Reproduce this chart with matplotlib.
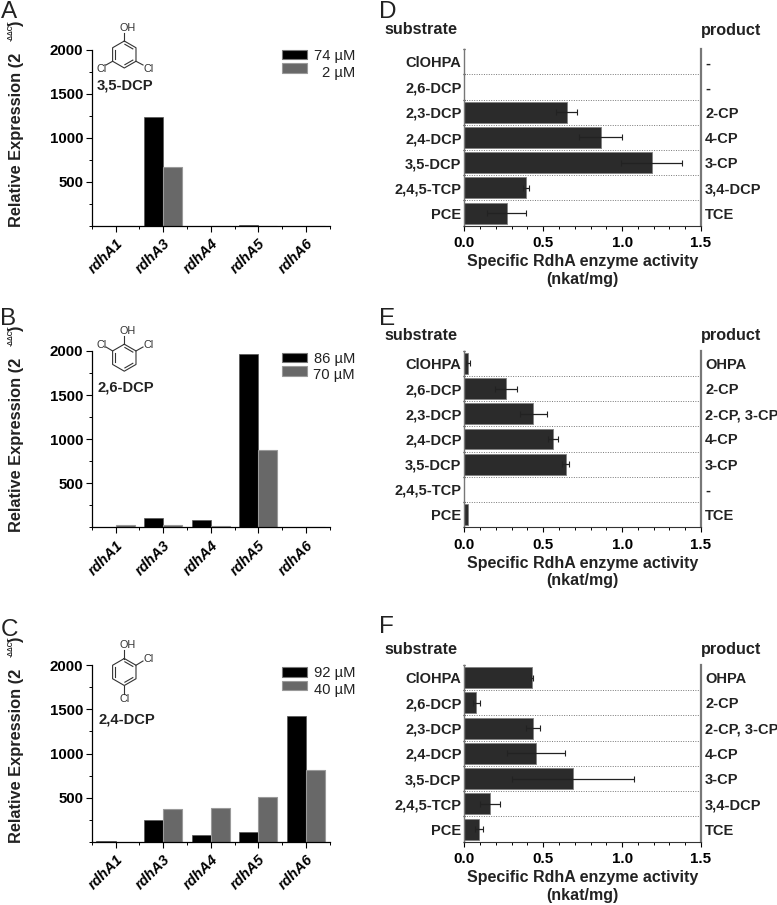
import numpy as np
import matplotlib
matplotlib.use("Agg")
import matplotlib.pyplot as plt
from matplotlib.patches import Rectangle
from matplotlib.ticker import MultipleLocator
from matplotlib.transforms import ScaledTranslation

plt.rcParams["font.family"] = ["Liberation Sans", "DejaVu Sans"]

W, H = 777, 905

# --- data --------------------------------------------------------------------
genes = ["rdhA1", "rdhA3", "rdhA4", "rdhA5", "rdhA6"]

a_high = [0, 1231, 0, 3, 0]
a_low = [0, 667, 0, 0, 0]
b_high = [8, 105, 80, 1970, 8]
b_low = [25, 25, 12, 880, 8]
c_high = [12, 247, 75, 112, 1420]
c_low = [2, 370, 378, 505, 812]

substrates = ["ClOHPA", "2,6-DCP", "2,3-DCP", "2,4-DCP", "3,5-DCP", "2,4,5-TCP", "PCE"]

d_vals = [0, 0, 0.649, 0.864, 1.187, 0.389, 0.268]
d_errs = [0, 0, 0.065, 0.134, 0.195, 0.019, 0.122]
d_prod = ["-", "-", "2-CP", "4-CP", "3-CP", "3,4-DCP", "TCE"]

e_vals = [0.023, 0.264, 0.437, 0.562, 0.642, 0, 0.023]
e_errs = [0.013, 0.071, 0.087, 0.032, 0.021, 0, 0]
e_prod = ["OHPA", "2-CP", "2-CP, 3-CP", "4-CP", "3-CP", "-", "TCE"]

f_vals = [0.429, 0.076, 0.435, 0.454, 0.689, 0.161, 0.093]
f_errs = [0.005, 0.023, 0.042, 0.183, 0.388, 0.064, 0.025]
f_prod = ["OHPA", "2-CP", "2-CP, 3-CP", "4-CP", "3-CP", "3,4-DCP", "TCE"]

fig = plt.figure(figsize=(W / 100, H / 100), dpi=100)


def px_axes(x0, x1, top, bottom):
    return fig.add_axes([x0 / W, 1 - bottom / H, (x1 - x0) / W, (bottom - top) / H])


def ftext(x, y, s, **kw):
    kw.setdefault("ha", "center")
    kw.setdefault("va", "center")
    fig.text(x / W, 1 - y / H, s, **kw)


def fline(xs, ys, lw=0.8, color="#333333"):
    fig.add_artist(plt.Line2D(np.array(xs) / W, 1 - np.array(ys) / H,
                              lw=lw, color=color, transform=fig.transFigure))


def frect(x0, y0, x1, y1, fc, ec):
    fig.add_artist(Rectangle((x0 / W, 1 - y1 / H), (x1 - x0) / W, (y1 - y0) / H,
                             fc=fc, ec=ec, lw=0.8, transform=fig.transFigure))


def ring(cx, cy, r, inner):
    ang = np.radians(90 + 60 * np.arange(7))
    xs, ys = cx + r * np.cos(ang), cy - r * np.sin(ang)
    fline(xs, ys)
    # inner double bonds
    for i in inner:
        mx, my = (xs[i] + xs[i + 1]) / 2, (ys[i] + ys[i + 1]) / 2
        px, py = cx + (mx - cx) * 0.78, cy + (my - cy) * 0.78
        dx, dy = (xs[i + 1] - xs[i]) * 0.34, (ys[i + 1] - ys[i]) * 0.34
        fline([px - dx, px + dx], [py - dy, py + dy])
    return xs, ys


def ylabel_parts(low):
    # superscript is much smaller than mathtext gives, so three rotated pieces
    rot = dict(rotation=90, va="bottom", fontweight="bold", color="#222222")
    ftext(17, low, "Relative Expression (2", fontsize=11.8, **rot)
    ftext(11.5, low - 186, "-ΔΔCT", fontsize=4.8, **rot)
    ftext(17, low - 200, ")", fontsize=11.8, **rot)


def expr_panel(top, bottom, high, low, label_low, legend_y, labels):
    ax = px_axes(91.7, 329.7, top, bottom)
    pos = np.arange(1, 6)
    ax.bar(pos - 0.2, high, 0.4, color="black", edgecolor="#555555", linewidth=0.5)
    ax.bar(pos + 0.2, low, 0.4, color="#686868", edgecolor="#9a9a9a", linewidth=0.8)
    ax.set_xlim(0.5, 5.5)
    ax.set_ylim(0, 2000)
    for s in ("top", "right"):
        ax.spines[s].set_visible(False)
    ax.spines["left"].set_linewidth(0.9)
    ax.spines["bottom"].set_linewidth(0.9)
    ax.set_xticks(pos)
    ax.set_xticklabels(genes, rotation=45, ha="right", va="top", rotation_mode="anchor",
                       fontsize=10.5, fontweight="bold", fontstyle="italic")
    shift = ScaledTranslation(-3 / 100, -2 / 100, fig.dpi_scale_trans)
    for lab in ax.get_xticklabels():
        lab.set_transform(lab.get_transform() + shift)
    ax.xaxis.set_minor_locator(MultipleLocator(1, offset=0.5))
    ax.set_yticks([500, 1000, 1500, 2000])
    ax.set_yticklabels(["500", "1000", "1500", "2000"], fontsize=10.8, fontweight="bold")
    ax.yaxis.set_minor_locator(MultipleLocator(250))
    ax.tick_params(axis="both", which="major", length=4, width=0.8, pad=2)
    ax.tick_params(axis="both", which="minor", length=2.2, width=0.7)
    ax.tick_params(axis="x", pad=4)
    ylabel_parts(label_low)
    frect(282, legend_y, 306.5, legend_y + 9.5, "black", "#777777")
    frect(282, legend_y + 13.5, 306.5, legend_y + 23, "#686868", "#9a9a9a")
    ftext(355, legend_y + 6, labels[0], ha="right", fontsize=10.6, color="#222222")
    ftext(355, legend_y + 22.5, labels[1], ha="right", fontsize=10.6, color="#222222")
    return ax


def activity_panel(top, bottom, vals, errs, prods, head_y):
    ax = px_axes(464.3, 701, top, bottom)
    y = np.arange(len(substrates))
    ax.barh(y, vals, 0.83, color="#2b2b2b", edgecolor="#808080", linewidth=0.6)
    for yi, v, e in zip(y, vals, errs):
        if e > 0:
            ax.errorbar(v, yi, xerr=e, color="#222222", lw=0.9, capsize=2, capthick=0.8)
    ax.set_xlim(0, 1.5)
    ax.set_ylim(6.5, -0.5)
    for b in y[:-1] + 0.5:
        ax.axhline(b, color="#777777", lw=0.7, ls=(0, (1, 1.5)), zorder=0)
    ax.spines["top"].set_visible(False)
    ax.spines["left"].set_color("#777777")
    ax.spines["left"].set_linewidth(1.0)
    ax.spines["right"].set_color("#777777")
    ax.spines["right"].set_linewidth(1.6)
    ax.spines["bottom"].set_color("#333333")
    ax.set_yticks(y)
    ax.set_yticklabels(substrates, fontsize=10.5, fontweight="bold", color="#222222")
    ax.set_yticks(np.arange(-0.5, 7), minor=True)
    ax.tick_params(axis="y", which="major", length=0, pad=2)
    ax.tick_params(axis="y", which="minor", length=2, width=0.9, color="#222222",
                   left=True, right=True, direction="inout")
    ax.set_xticks([0, 0.5, 1.0, 1.5])
    ax.set_xticklabels(["0.0", "0.5", "1.0", "1.5"], fontsize=10.9, fontweight="bold")
    ax.xaxis.set_minor_locator(MultipleLocator(0.1))
    ax.tick_params(axis="x", which="major", length=3.5, width=0.8, pad=4)
    ax.tick_params(axis="x", which="minor", length=2, width=0.7)
    ax.set_xlabel("Specific RdhA enzyme activity\n(nkat/mg)", fontsize=11.5,
                  fontweight="bold", labelpad=3, linespacing=1.2, color="#222222")
    right = ax.twinx()
    right.set_ylim(ax.get_ylim())
    right.set_yticks(y)
    right.set_yticklabels(prods, fontsize=10.5, fontweight="bold", color="#222222")
    right.tick_params(axis="y", length=0, pad=3)
    for s in right.spines.values():
        s.set_visible(False)
    ftext(384, head_y, "substrate", ha="left", fontsize=11.7, fontweight="bold", color="#222222")
    ftext(700.7, head_y, "product", ha="left", fontsize=11.7, fontweight="bold", color="#222222")
    return ax


# --- left column -------------------------------------------------------------
expr_panel(49.7, 225.7, a_high, a_low, 226.7, 50, ["74 µM", "2 µM"])
expr_panel(351, 527.3, b_high, b_low, 531.7, 352.5, ["86 µM", "70 µM"])
expr_panel(665.3, 841.7, c_high, c_low, 842.7, 667, ["92 µM", "40 µM"])

# --- right column ------------------------------------------------------------
activity_panel(49.3, 225.7, d_vals, d_errs, d_prod, 30)
activity_panel(350.7, 527.3, e_vals, e_errs, e_prod, 335)
activity_panel(665, 841.7, f_vals, f_errs, f_prod, 649)

# --- panel letters -----------------------------------------------------------
for x, y, s in [(9, 18.5, "A"), (8, 325, "B"), (9, 636, "C"),
                (388, 18.5, "D"), (387, 325, "E"), (386, 633, "F")]:
    ftext(x, y, s, fontsize=17.5, color="#222222", va="baseline")

# --- chemical structures -----------------------------------------------------
chem = dict(fontsize=7.8, color="#333333")

xs, ys = ring(124.3, 54.5, 13.5, [1, 3, 5])
fline([xs[0], xs[0]], [ys[0], 33])
fline([xs[2], 106], [ys[2], 65])
fline([xs[4], 143], [ys[4], 65])
ftext(128, 28, "OH", **chem)
ftext(102, 68.5, "Cl", **chem)
ftext(149, 68.5, "Cl", **chem)
ftext(125, 86, "3,5-DCP", fontsize=10.6, fontweight="bold", color="#222222")

xs, ys = ring(124.3, 357.7, 13.5, [1, 3, 5])
fline([xs[0], xs[0]], [ys[0], 336])
fline([xs[1], 106], [ys[1], 347])
fline([xs[5], 143], [ys[5], 347])
ftext(128, 331, "OH", **chem)
ftext(102, 345, "Cl", **chem)
ftext(149, 345, "Cl", **chem)
ftext(126, 387, "2,6-DCP", fontsize=10.6, fontweight="bold", color="#222222")

xs, ys = ring(124.3, 672, 13.5, [1, 3, 5])
fline([xs[0], xs[0]], [ys[0], 650])
fline([xs[5], 143], [ys[5], 661])
fline([xs[3], xs[3]], [ys[3], 694])
ftext(128, 645, "OH", **chem)
ftext(149, 659, "Cl", **chem)
ftext(125, 699, "Cl", **chem)
ftext(127, 719, "2,4-DCP", fontsize=10.6, fontweight="bold", color="#222222")

fig.savefig("out.png", dpi=100)
